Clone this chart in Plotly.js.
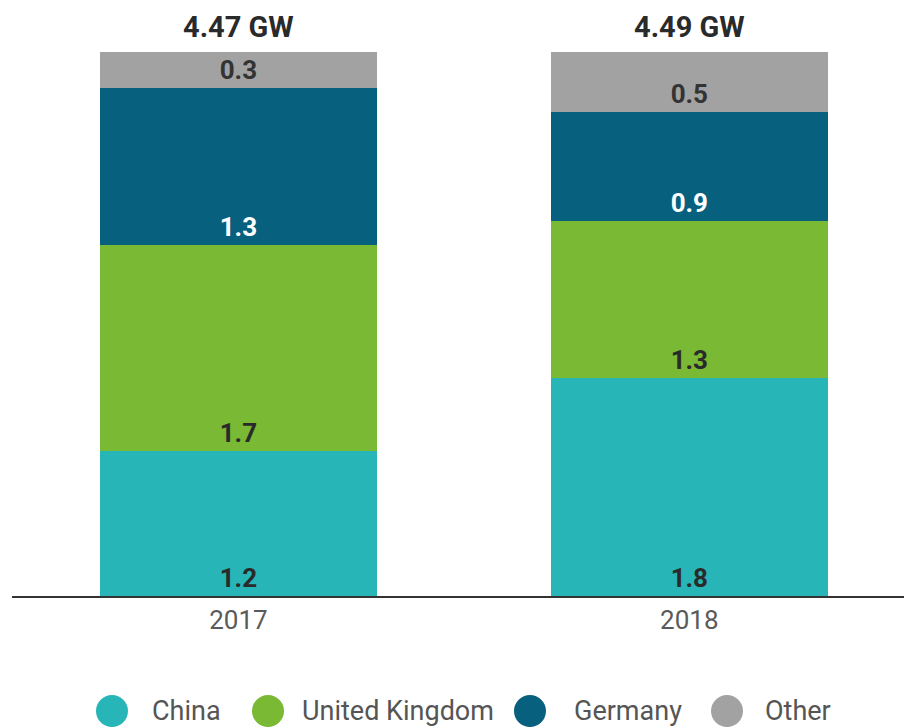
<!DOCTYPE html>
<html>
<head>
<meta charset="utf-8">
<script src="https://cdn.plot.ly/plotly-3.0.1.min.js"></script>
<style>html,body{margin:0;padding:0;background:#fff;}#chart{width:904px;height:727px;}</style>
</head>
<body>
<div id="chart"></div>
<script>
const years = ['2017', '2018'];
const china = [1.2, 1.8];
const uk = [1.7, 1.3];
const germany = [1.3, 0.9];
const other = [0.3, 0.5];
const totalLabels = ['4.47 GW', '4.49 GW'];
const seriesNames = ['China', 'United Kingdom', 'Germany', 'Other'];
const seriesColors = ['#27b5b7', '#79b934', '#08607f', '#a2a2a2'];
const labelColors = ['#2a2a2a', '#2a2a2a', '#ffffff', '#333333'];
const seriesValues = [china, uk, germany, other];

const traces = [];
seriesValues.forEach((vals, i) => {
  traces.push({
    type: 'bar', x: years, y: vals, name: seriesNames[i],
    marker: {color: seriesColors[i]}, width: 0.614,
    text: vals.map(v => v.toFixed(1)), textposition: 'inside',
    insidetextanchor: 'start', textangle: 0,
    textfont: {family: 'Roboto', size: 26, color: labelColors[i], weight: 'bold'},
    showlegend: false, hoverinfo: 'skip'
  });
});

const sums = years.map((_, j) => seriesValues.reduce((s, v) => s + v[j], 0));
const annotations = years.map((yr, j) => ({
  x: j, y: sums[j], xref: 'x', yref: 'y', text: '<b>' + totalLabels[j] + '</b>',
  showarrow: false, xanchor: 'center', yanchor: 'bottom', yshift: 6,
  font: {family: 'Roboto', size: 29, color: '#2a2a2a'}
}));

// custom legend (circle swatches + labels)
const legendCircleX = [0.1121, 0.287, 0.5807, 0.8016];
const legendTextX = [0.1547, 0.3229, 0.6278, 0.8419];
const legendY = -0.193;
const shapes = [];
seriesNames.forEach((name, i) => {
  shapes.push({
    type: 'circle', xref: 'paper', yref: 'paper', xsizemode: 'pixel', ysizemode: 'pixel',
    xanchor: legendCircleX[i], yanchor: legendY, x0: -16, x1: 16, y0: -16, y1: 16,
    fillcolor: seriesColors[i], line: {width: 0}
  });
  annotations.push({
    xref: 'paper', yref: 'paper', x: legendTextX[i], y: legendY, xanchor: 'left', yanchor: 'middle',
    text: name, showarrow: false, font: {family: 'Roboto', size: 27, color: '#555'}
  });
});

const layout = {
  width: 904, height: 727,
  margin: {l: 12, r: 0, t: 0, b: 131},
  paper_bgcolor: '#fff', plot_bgcolor: '#fff',
  barmode: 'stack',
  xaxis: {type: 'category', range: [-0.502, 1.476], showline: true, linecolor: '#333', linewidth: 2,
    ticks: '', tickfont: {family: 'Roboto', size: 26, color: '#5a5a5a'}, showgrid: false, fixedrange: true},
  yaxis: {range: [0, 4.93], visible: false, showgrid: false, zeroline: false, fixedrange: true},
  showlegend: false,
  annotations: annotations,
  shapes: shapes
};
Plotly.newPlot('chart', traces, layout, {displayModeBar: false, staticPlot: true});
</script>
</body>
</html>
